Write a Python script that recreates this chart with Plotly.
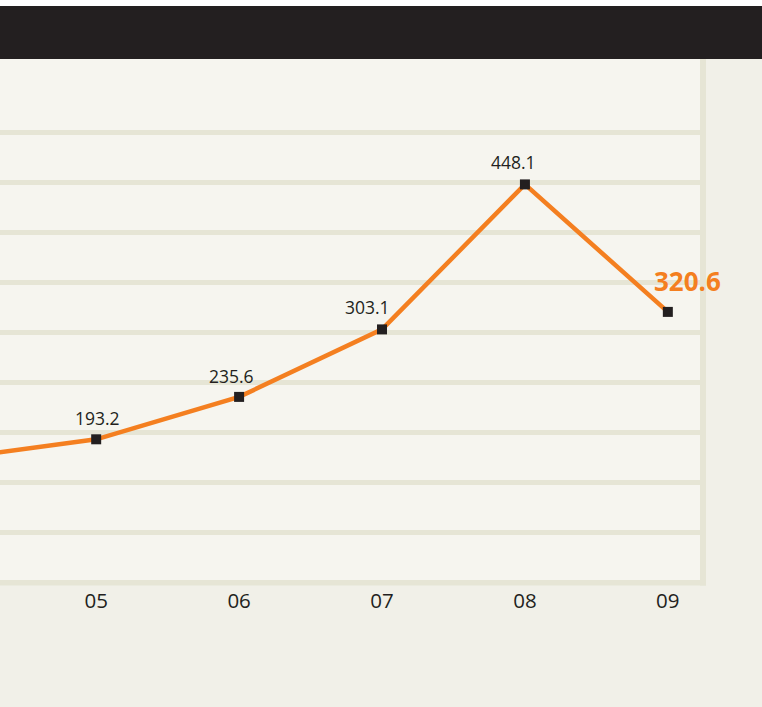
import plotly.graph_objects as go

# ---- data ----
years = ["04", "05", "06", "07", "08", "09"]
values = [174.0, 193.2, 235.6, 303.1, 448.1, 320.6]
labels = ["", "193.2", "235.6", "303.1", "448.1", "320.6"]
grid_values = [100, 150, 200, 250, 300, 350, 400, 450, 500]

# ---- style ----
W, H = 762, 707
ML, MR, MT, MB = 0, 62, 59, 127
PW, PH = W - ML - MR, H - MT - MB
ORANGE = "#f47f20"
DARK = "#231f20"
PAPER = "#f1f0e8"
PLOTBG = "#f6f5ef"
GRID = "#e6e5d5"
FONT = "Open Sans"

label_xshift = [0, 1, -8, -15, -11, 20]
label_yshift = [0, 21, 21, 22, 22, 31]

xs = list(range(len(years)))

fig = go.Figure()
fig.add_trace(go.Scatter(
    x=xs, y=values, mode="lines+markers",
    line=dict(color=ORANGE, width=4.5),
    marker=dict(symbol="square", size=10, color=DARK),
    hoverinfo="skip", showlegend=False,
))

xmin, xmax = 0.327, 5.225
last = len(values) - 1
for i, (x, v, t) in enumerate(zip(xs, values, labels)):
    if not t or x < xmin:
        continue
    is_last = i == last
    fig.add_annotation(
        x=x, y=v, text=t, showarrow=False,
        xshift=label_xshift[i], yshift=label_yshift[i],
        font=dict(family=FONT, size=26 if is_last else 17.5,
                  color=ORANGE if is_last else DARK,
                  weight="bold" if is_last else "normal"),
    )

def py(p):  # pixel y -> paper y
    return (H - MB - p) / PH

def px(p):  # pixel x -> paper x
    return (p - ML) / PW

shapes = [
    dict(type="rect", xref="paper", yref="paper", x0=px(0), x1=px(W), y0=py(6), y1=py(0),
         fillcolor="#ffffff", line_width=0, layer="above"),
    dict(type="rect", xref="paper", yref="paper", x0=px(0), x1=px(W), y0=py(59), y1=py(6),
         fillcolor=DARK, line_width=0, layer="above"),
    dict(type="rect", xref="paper", yref="paper", x0=px(700), x1=px(706), y0=py(585.5), y1=py(59),
         fillcolor=GRID, line_width=0, layer="below"),
    dict(type="rect", xref="paper", yref="paper", x0=px(0), x1=px(706), y0=py(585.5), y1=py(580),
         fillcolor=GRID, line_width=0, layer="below"),
]

fig.update_layout(
    width=W, height=H,
    margin=dict(l=ML, r=MR, t=MT, b=MB, pad=0),
    paper_bgcolor=PAPER, plot_bgcolor=PLOTBG,
    shapes=shapes,
    xaxis=dict(range=[xmin, xmax], tickvals=xs[1:], ticktext=years[1:],
               showgrid=False, zeroline=False, showline=False, ticks="",
               tickfont=dict(family=FONT, size=20.5, color=DARK),
               ticklabelstandoff=6),
    yaxis=dict(range=[52.5, 573.5], tickvals=grid_values, showticklabels=False,
               showgrid=True, gridcolor=GRID, gridwidth=5, zeroline=False,
               showline=False, ticks=""),
)

fig.write_html(
    "out.html",
    config={"displayModeBar": False, "staticPlot": True},
    post_script="document.body.style.margin='0';document.body.style.overflow='hidden';",
)
